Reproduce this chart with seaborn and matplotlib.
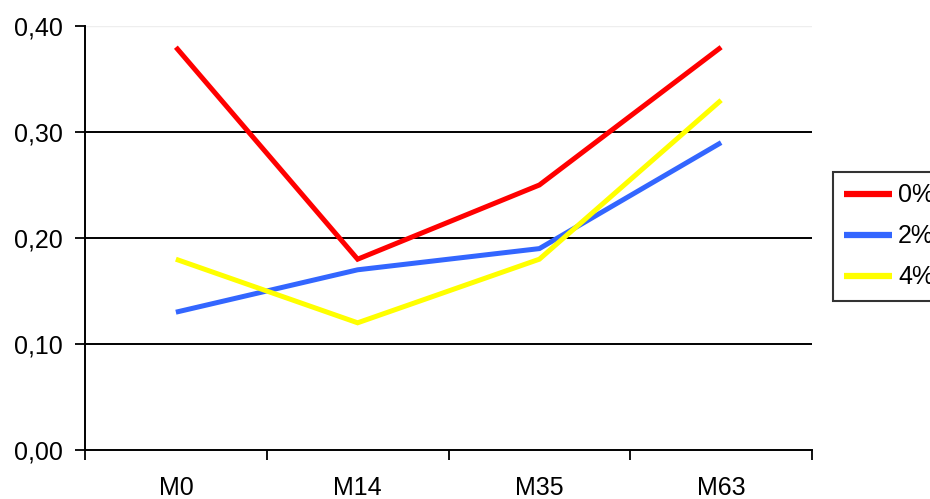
import matplotlib
matplotlib.use("Agg")
import matplotlib.pyplot as plt
import seaborn as sns
import pandas as pd
from matplotlib.ticker import FixedLocator, FuncFormatter

months = ["M0", "M14", "M35", "M63"]
levels = ["0%", "2%", "4%"]
values_0 = [0.38, 0.18, 0.25, 0.38]
values_2 = [0.13, 0.17, 0.19, 0.29]
values_4 = [0.18, 0.12, 0.18, 0.33]
colors = ["#ff0000", "#3366ff", "#ffff00"]

rows = []
for lvl, vals in zip(levels, [values_0, values_2, values_4]):
    for i, (m, v) in enumerate(zip(months, vals)):
        rows.append({"pos": i, "month": m, "level": lvl, "value": v})
df = pd.DataFrame(rows)

sns.set_style("white")
plt.rcParams["font.family"] = ["Liberation Sans", "DejaVu Sans"]
plt.rcParams["text.color"] = "black"
plt.rcParams["xtick.color"] = "black"
plt.rcParams["ytick.color"] = "black"

fig = plt.figure(figsize=(9.3, 4.99), dpi=100)
ax = fig.add_axes([85 / 930, 49 / 499, (812 - 85) / 930, (450 - 26) / 499])

sns.lineplot(data=df, x="pos", y="value", hue="level", palette=colors,
             linewidth=3.6, ax=ax, legend=False)
for ln in ax.get_lines():
    ln.set_solid_capstyle("butt")
    ln.set_solid_joinstyle("miter")

ax.set_xlim(-0.5, 3.5)
ax.set_ylim(0, 0.40)
ax.set_yticks([0, 0.1, 0.2, 0.3, 0.4])
ax.yaxis.set_major_formatter(FuncFormatter(lambda v, p: f"{v:.2f}".replace(".", ",")))

# category boundaries as major ticks, labels on minor ticks at category centres
ax.xaxis.set_major_locator(FixedLocator([-0.5, 0.5, 1.5, 2.5, 3.5]))
ax.xaxis.set_major_formatter(FuncFormatter(lambda v, p: ""))
ax.xaxis.set_minor_locator(FixedLocator([0, 1, 2, 3]))
ax.set_xticklabels(months, minor=True)
ax.tick_params(axis="x", which="major", length=7, width=1.3, color="black", direction="out", bottom=True)
ax.tick_params(axis="x", which="minor", length=0, pad=19, labelsize=18, labelcolor="black")
ax.tick_params(axis="y", which="major", length=7, width=1.3, color="black", direction="out",
               left=True, labelsize=18, pad=9, labelcolor="black")

for y in [0.1, 0.2, 0.3]:
    ax.axhline(y, color="black", linewidth=1.4, zorder=0)
ax.axhline(0.4, color="#eeeeee", linewidth=1.0, zorder=0)

for s in ["top", "right"]:
    ax.spines[s].set_visible(False)
for s in ["left", "bottom"]:
    ax.spines[s].set_color("black")
    ax.spines[s].set_linewidth(1.4)

ax.set_xlabel("")
ax.set_ylabel("")

handles = [plt.Line2D([0], [0], color=c, linewidth=4.5, solid_capstyle="butt") for c in colors]
leg = fig.legend(handles, levels, loc="upper left", bbox_to_anchor=(833 / 930, 1 - 172 / 499),
                 fontsize=18, frameon=True, fancybox=False, handlelength=1.9,
                 labelspacing=0.68, borderpad=0.45, handletextpad=0.25, borderaxespad=0)
leg.get_frame().set_edgecolor("black")
leg.get_frame().set_linewidth(1.5)

fig.savefig("out.png", dpi=100)
